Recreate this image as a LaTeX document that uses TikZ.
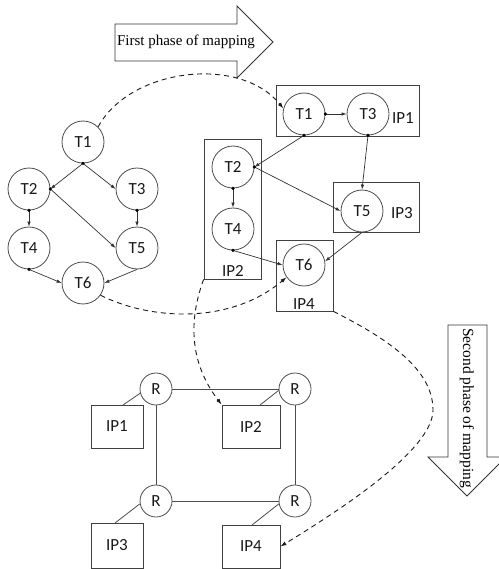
\documentclass[tikz,border=0pt]{standalone}
\usepackage{fontspec}
\setmainfont{Carlito}
\newfontfamily\timesf{Liberation Serif}
\usetikzlibrary{arrows.meta}
\begin{document}
\begin{tikzpicture}[x=1pt,y=-1pt,
  lbl/.style={font=\fontsize{17}{19}\selectfont,text=black!90},
  task/.style={circle,draw=black!70,line width=0.8pt,minimum size=42pt,inner sep=0pt,lbl},
  router/.style={circle,draw=black!70,line width=0.8pt,minimum size=32pt,inner sep=0pt,lbl},
  ipbox/.style={rectangle,draw=black!75,line width=0.8pt,inner sep=0pt,lbl},
  dep/.style={draw=black!80,line width=0.7pt,-{Latex[length=5pt,width=3.5pt]}},
  link/.style={draw=black!70,line width=0.8pt},
  dotmark/.style={fill=black},
  mapline/.style={draw=black!90,line width=0.9pt,dash pattern=on 5pt off 4pt,-{Latex[length=6pt,width=4pt]}},
  bigarrow/.style={draw=black!80,line width=0.8pt,fill=white}
]
\useasboundingbox (0,0) rectangle (498,569);

% big arrows
\draw[bigarrow] (115,24) -- (237,24) -- (237,6) -- (273,42) -- (237,78) -- (237,61) -- (115,61) -- cycle;
\node[font=\timesf\fontsize{15}{16}\selectfont] (ph1) at (186,42) {First phase of mapping};
\draw[bigarrow] (448,325) -- (487,325) -- (487,457) -- (506,457) -- (467,496) -- (428,457) -- (448,457) -- cycle;
\node[font=\timesf\fontsize{15.5}{16}\selectfont,rotate=-90] (ph2) at (467,408) {Second phase of mapping};

% left task graph
\node[task] (lT1) at (83,142) {T1};
\node[task] (lT2) at (29,189) {T2};
\node[task] (lT3) at (137,189) {T3};
\node[task] (lT4) at (29,248) {T4};
\node[task] (lT5) at (137,248) {T5};
\node[task] (lT6) at (83,283) {T6};
\draw[dep] (lT1.south) -- (lT2.east);
\draw[dep] (lT1.south) -- (lT3.west);
\draw[dep] (lT2.east) -- (lT5.west);
\draw[dep] (lT2.south) -- (lT4.north);
\draw[dep] (lT3.south) -- (lT5.north);
\draw[dep] (lT4.south) -- (lT6.west);
\draw[dep] (lT5.south) -- (lT6.east);
\foreach \p in {lT1.south,lT2.east,lT2.south,lT3.south,lT4.south}
  \fill[dotmark] (\p) circle (1.8pt);

% right mapped graph
\node[ipbox,minimum width=143pt,minimum height=51pt] (rIP1) at (347.5,110.5) {};
\node[ipbox,minimum width=57pt,minimum height=140pt] (rIP2) at (232.5,209) {};
\node[ipbox,minimum width=86pt,minimum height=50pt] (rIP3) at (376,207) {};
\node[ipbox,minimum width=57pt,minimum height=71pt] (rIP4) at (304.5,275.5) {};
\node[lbl] (l1) at (403,118) {IP1};
\node[lbl] (l2) at (233,271) {IP2};
\node[lbl] (l3) at (402,213) {IP3};
\node[lbl] (l4) at (304,304) {IP4};
\node[task] (rT1) at (304,114) {T1};
\node[task] (rT3) at (368,114) {T3};
\node[task] (rT2) at (233,167) {T2};
\node[task] (rT4) at (233,229) {T4};
\node[task] (rT5) at (362,211) {T5};
\node[task] (rT6) at (304,265) {T6};
\draw[dep] (rT1.east) -- (rT3.west);
\draw[dep] (rT1.south) -- (rT2.east);
\draw[dep] (rT2.east) -- (rT5.west);
\draw[dep] (rT3.south) -- (rT5.north);
\draw[dep] (rT2.south) -- (rT4.north);
\draw[dep] (rT4.south) -- (rT6.west);
\draw[dep] (rT5.south) -- (rT6.10);
\foreach \p in {rT1.east,rT1.south,rT2.east,rT3.south,rT2.south,rT4.south}
  \fill[dotmark] (\p) circle (1.8pt);

% bottom network
\node[router] (R1) at (156,389) {R};
\node[router] (R2) at (295,389) {R};
\node[router] (R3) at (156,501) {R};
\node[router] (R4) at (295,501) {R};
\node[ipbox,minimum width=52pt,minimum height=43pt] (bIP1) at (117,426.5) {IP1};
\node[ipbox,minimum width=58pt,minimum height=43pt] (bIP2) at (251,426.5) {IP2};
\node[ipbox,minimum width=52pt,minimum height=45pt] (bIP3) at (117,545.5) {IP3};
\node[ipbox,minimum width=58pt,minimum height=43pt] (bIP4) at (251,546.5) {IP4};
\draw[link] (R1) -- (R2);
\draw[link] (R1) -- (R3);
\draw[link] (R2) -- (R4);
\draw[link] (R3) -- (R4);
\coordinate (c1) at (123,405);
\coordinate (c2) at (260,405);
\coordinate (c3) at (115,523);
\coordinate (c4) at (252,525);
\draw[link] (R1.195) -- (c1);
\draw[link] (R2.185) -- (c2);
\draw[link] (R3.190) -- (c3);
\draw[link] (R4.190) -- (c4);

% mapping curves
\draw[mapline] (lT1.north east) .. controls (130,68) and (240,55) .. (rT1.165);
\draw[mapline] (lT6.-35) .. controls (150,320) and (230,325) .. (rT6.215);
\draw[mapline] (rIP2.south west) .. controls (185,330) and (195,370) .. (bIP2.north west);
\draw[mapline] (rIP4.south east) .. controls (390,340) and (433,370) .. (433,410) .. controls (433,450) and (340,510) .. (bIP4.east);
\end{tikzpicture}
\end{document}
